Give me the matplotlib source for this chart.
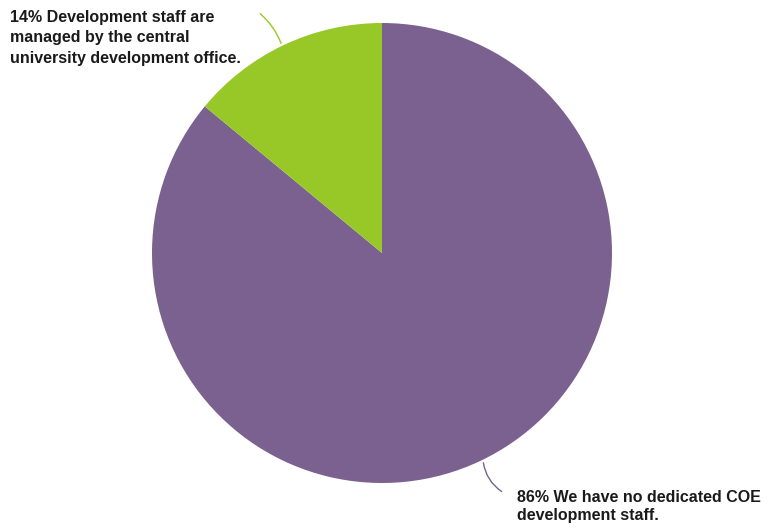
import matplotlib.pyplot as plt

plt.rcParams['font.family'] = ['Liberation Sans', 'DejaVu Sans']

labels = ["86% We have no dedicated COE\ndevelopment staff.",
          "14% Development staff are\nmanaged by the central\nuniversity development office."]
values = [86, 14]
colors = ["#7B618F", "#97C827"]

W, H = 769, 531
fig = plt.figure(figsize=(W / 100, H / 100), dpi=100)
ax = fig.add_axes([0, 0, 1, 1])

# pie in pixel coordinates (y flipped)
cx, cy, r = 382, H - 253, 230
ax.pie(values, colors=colors, startangle=90, counterclock=False,
       center=(cx, cy), radius=r, frame=True,
       wedgeprops=dict(linewidth=0))
ax.set_xlim(0, W)
ax.set_ylim(0, H)
ax.set_aspect("equal")
ax.axis("off")

# labels with curved leader lines
ax.text(10, H - 10, labels[1], ha="left", va="top", fontsize=11.5,
        fontweight="bold", linespacing=1.45, color="#1a1a1a")
ax.annotate("", xy=(282, H - 46), xytext=(258, H - 12),
            arrowprops=dict(arrowstyle="-", color=colors[1], lw=1,
                            connectionstyle="arc3,rad=-0.15"))

ax.text(517, H - 490, labels[0], ha="left", va="top", fontsize=11.5,
        fontweight="bold", linespacing=1.28, color="#1a1a1a")
ax.annotate("", xy=(483, H - 460), xytext=(504, H - 493),
            arrowprops=dict(arrowstyle="-", color=colors[0], lw=1,
                            connectionstyle="arc3,rad=-0.25"))

fig.savefig("out.png", dpi=100)
